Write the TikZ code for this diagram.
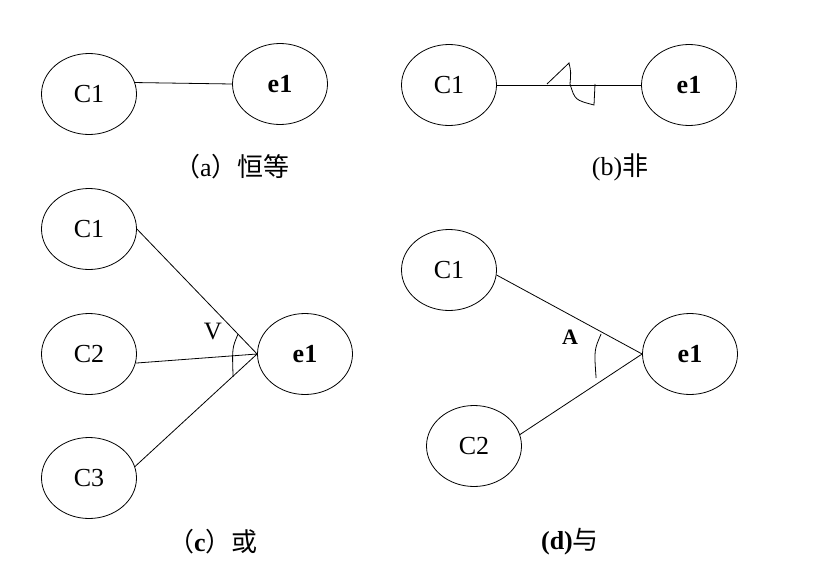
\documentclass[tikz,border=0pt]{standalone}
\usepackage{fontspec}
\setmainfont{Liberation Serif}
\newfontfamily\cjk{Noto Sans CJK SC}
\usetikzlibrary{shapes.geometric}
\tikzset{
  cnode/.style={draw, ellipse, minimum width=95pt, minimum height=81pt, inner sep=0pt, font=\fontsize{26}{26}\selectfont},
  enode/.style={cnode, font=\fontsize{26}{26}\selectfont\bfseries},
  caption/.style={font=\fontsize{26}{26}\selectfont},
}
\begin{document}
\begin{tikzpicture}[x=1pt, y=-1pt, line width=0.8pt]
        \useasboundingbox (0,0) rectangle (819,578);
        % (a)
        \node[cnode] (ac1) at (89,94) {C1};
        \node[enode] (ae1) at (280,84) {e1};
        \draw (ac1.14) -- (ae1.west);
        \node[caption] (acap) at (232,167) {{\cjk （}a{\cjk ）恒等}};
        % (b)
        \node[cnode] (bc1) at (449,85) {C1};
        \node[enode] (be1) at (689,85) {e1};
        \draw (bc1) -- (be1);
        \draw (547,84) -- (569,63) .. controls (571,72) .. (570,84);
        \draw (570,84) .. controls (575,100) .. (594,105) -- (595,84);
        \node[caption] (bcap) at (620,167) {(b){\cjk 非}};
        % (c)
        \node[cnode] (cc1) at (89,229) {C1};
        \node[cnode] (cc2) at (89,354) {C2};
        \node[cnode] (cc3) at (89,478) {C3};
        \node[enode] (ce1) at (305,354) {e1};
        \draw (cc1.east) -- (ce1.west);
        \draw (cc2.-11) -- (ce1.west);
        \draw (cc3.14) -- (ce1.west);
        \draw ([shift={(-19,-20)}]ce1.west) .. controls ([shift={(-25,-6)}]ce1.west) .. ([shift={(-24,23)}]ce1.west);
        \node[font=\fontsize{25}{25}\selectfont] (cv) at (213,332) {V};
        \node[caption] (ccap) at (213,542) {{\cjk （}\textbf{c}{\cjk ）或}};
        % (d)
        \node[cnode] (dc1) at (449,270) {C1};
        \node[cnode] (dc2) at (474,446) {C2};
        \node[enode] (de1) at (690,354) {e1};
        \draw (dc1.-6) -- (de1.west);
        \draw (dc2.14) -- (de1.west);
        \draw ([shift={(-41,-20)}]de1.west) .. controls ([shift={(-48,-4)}]de1.west) .. ([shift={(-46,24)}]de1.west);
        \node[font=\fontsize{22}{22}\selectfont\bfseries] (da) at (570,337) {A};
        \node[caption] (dcap) at (570,542) {\textbf{(d)}{\cjk 与}};
    \end{tikzpicture}
\end{document}
